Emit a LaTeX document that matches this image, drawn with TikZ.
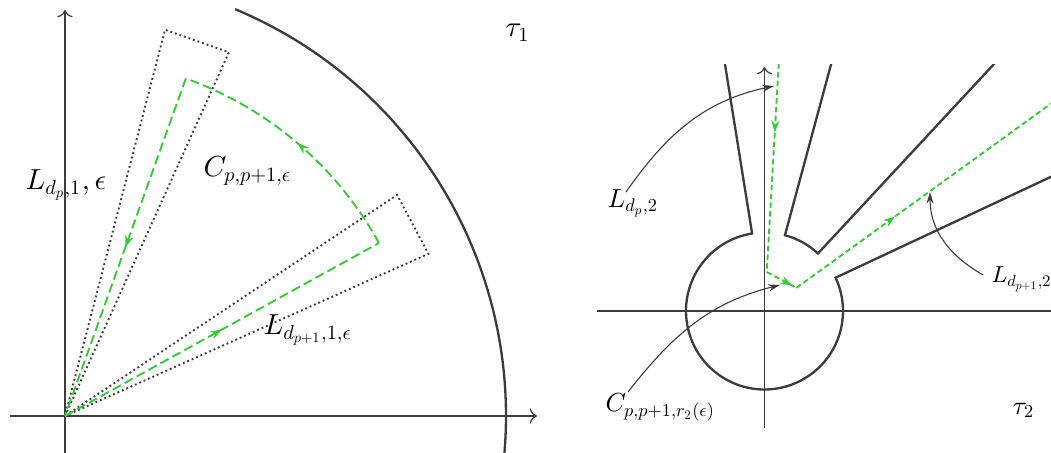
\documentclass[tikz,border=0pt]{standalone}
\usetikzlibrary{decorations.markings,arrows.meta,calc}
\DeclareFontFamily{OML}{cmm}{\skewchar\font127 }
\DeclareFontShape{OML}{cmm}{m}{it}{<->cmmi10}{}
\DeclareFontFamily{OT1}{cmr}{\hyphenchar\font45 }
\DeclareFontShape{OT1}{cmr}{m}{n}{<->cmr10}{}
\DeclareMathSizes{10}{10}{7}{5}
\DeclareMathSizes{9}{9}{6.3}{4.5}
\DeclareMathSizes{8}{8}{5.6}{4}
\definecolor{ln}{RGB}{60,60,60}
\definecolor{gr}{RGB}{51,204,51}
\tikzset{
  axis/.style={line width=0.42pt, draw=ln, ->},
  wall/.style={line width=0.8pt, draw=ln},
  dotbox/.style={line width=0.65pt, draw=ln, dash pattern=on 0.65pt off 1.0pt},
  gpath/.style={line width=0.65pt, draw=gr, dash pattern=on 3.2pt off 1.5pt},
  gpathb/.style={line width=0.65pt, draw=gr, dash pattern=on 1.9pt off 1.1pt},
  gmark/.style={postaction={decorate}, decoration={markings,
      mark=at position #1 with {\arrow[gr]{Stealth[length=4pt,width=2.8pt]}}}},
  ann/.style={line width=0.38pt, draw=ln, -{Stealth[length=4pt,width=2.4pt]}},
  lab/.style={anchor=base west, inner sep=0pt, font=\fontsize{10}{12}\selectfont},
  labr/.style={anchor=base west, inner sep=0pt, font=\fontsize{9}{11}\selectfont},
  labs/.style={anchor=base west, inner sep=0pt, font=\fontsize{8}{10}\selectfont}
}
\begin{document}
\begin{tikzpicture}[x=0.345pt,y=0.345pt]
\useasboundingbox (0,0) rectangle (1051,453);
% ---------------- left panel ----------------
\coordinate (O1) at (65,37);
\coordinate (xa1) at (10,37);
\coordinate (xb1) at (537,37);
\coordinate (ya1) at (65,0);
\coordinate (yb1) at (65,443);
\draw[axis] (xa1) -- (xb1);
\draw[axis] (ya1) -- (yb1);
\draw[wall] ($(O1)+(-4.8:441)$) arc[start angle=-4.8, end angle=67.3, radius=441];
\draw[dotbox] (O1) -- ($(O1)+(65.74:399)$) -- ($(O1)+(75.48:399)$) -- cycle;
\draw[dotbox] (O1) -- ($(O1)+(24.05:398)$) -- ($(O1)+(33.65:399)$) -- cycle;
\draw[gpath, gmark=0.5] (O1) -- ($(O1)+(28.85:358.5)$);
\draw[gpath, gmark=0.5] ($(O1)+(28.85:358.5)$) arc[start angle=28.85, end angle=70.3, radius=358.5];
\draw[gpath, gmark=0.5] ($(O1)+(70.3:358.5)$) -- (O1);
\node[lab] (Ldp1) at (25,263) {$L_{d_p,1},\epsilon$};
\node[lab] (Cp1) at (203,276) {$C_{p,p+1,\epsilon}$};
\node[lab] (Lq1) at (263,118) {$L_{d_{p+1},1,\epsilon}$};
\node[lab] (tau1) at (505,416) {$\tau_1$};
% ---------------- right panel ----------------
\coordinate (O2) at (764.5,142);
\begin{scope}
\clip (590,0) rectangle (1051,388);
\coordinate (xa2) at (597,142);
\coordinate (xb2) at (1060,142);
\coordinate (ya2) at (764.5,25);
\coordinate (yb2) at (764.5,386);
\draw[line width=0.42pt, draw=ln] (xa2) -- (xb2);
\draw[axis] (ya2) -- (yb2);
\draw[wall] ($(O2)+(99.1:300)$) -- ($(O2)+(99.1:78.5)$)
  arc[start angle=99.1, end angle=385.1, radius=78.5] -- ($(O2)+(25.1:400)$);
\draw[wall] ($(O2)+(74.9:300)$) -- ($(O2)+(74.9:78.5)$)
  arc[start angle=74.9, end angle=47.1, radius=78.5] -- ($(O2)+(47.1:400)$);
\draw[gpathb, gmark=0.33] ($(O2)+(86.7:248)$) -- ($(O2)+(86.7:39)$);
\draw[gpathb, gmark=0.85] ($(O2)+(86.7:39)$) -- ($(O2)+(35.9:39.5)$);
\draw[gpathb, gmark=0.38] ($(O2)+(35.9:39.5)$) -- ($(O2)+(35.9:360)$);
\end{scope}
\node[labr] (Ldp2) at (607,245) {$L_{d_p,2}$};
\node[labr] (Clab) at (605,41) {$C_{p,p+1,r_2(\epsilon)}$};
\node[labs] (Lq2) at (991,170) {$L_{d_{p+1},2}$};
\node[labr] (tau2) at (1012,38) {$\tau_2$};
\coordinate (t1) at (774,367);
\coordinate (t2) at (780,168);
\coordinate (t3) at (930,261);
\draw[ann] ($(Ldp2.base west)+(19,16)$) to[out=55,in=-168] (t1);
\draw[ann] ($(Clab.base west)+(23,20)$) to[out=52,in=-166] (t2);
\draw[ann] ($(Lq2.base west)+(-8,8)$) to[out=150,in=-90] (t3);
\end{tikzpicture}
\end{document}
